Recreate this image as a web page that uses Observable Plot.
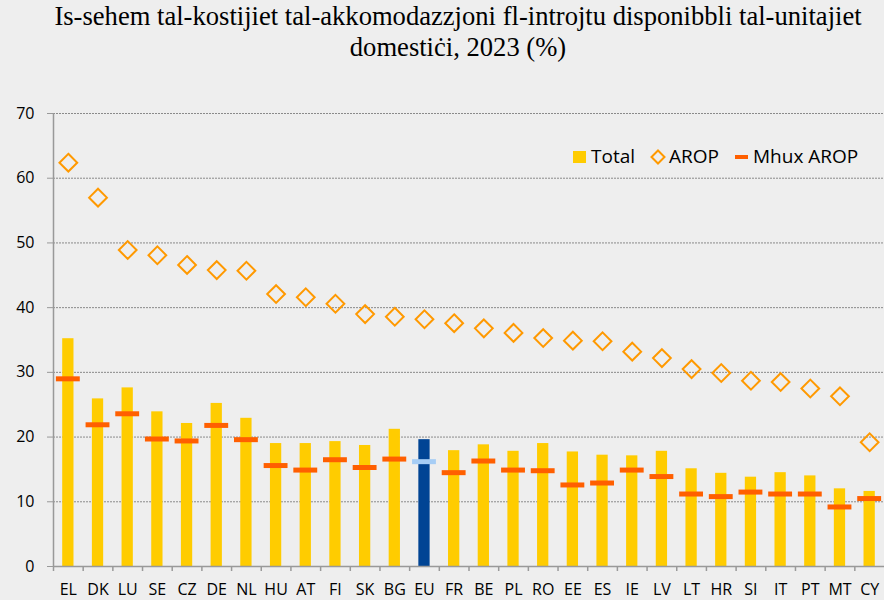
<!DOCTYPE html>
<html>
<head>
<meta charset="utf-8">
<script src="https://cdn.jsdelivr.net/npm/d3@7"></script>
<script src="https://cdn.jsdelivr.net/npm/@observablehq/plot@0.6"></script>
<style>
  html, body { margin: 0; padding: 0; background: #eeeeee; }
  #wrap { position: relative; width: 884px; height: 600px; background: #eeeeee; overflow: hidden; }
  #title { height: 95px; box-sizing: border-box; padding-top: 1px; padding-left: 32px; text-align: center; font-family: "Liberation Serif", "Times New Roman", serif; font-size: 26.6px; line-height: 31px; color: #000; white-space: nowrap; }
  .lg { position: absolute; font-family: "Open Sans", sans-serif; font-size: 19px; color: #000; line-height: 20px; white-space: nowrap; }
</style>
</head>
<body>
<div id="wrap">
  <div id="title">Is-sehem tal-kostijiet tal-akkomodazzjoni fl-introjtu disponibbli tal-unitajiet<br>domestiċi, 2023 (%)</div>
  <div id="chart"></div>
  <div class="lg" style="left:573px;top:151px;width:13px;height:12px;background:#ffcc00"></div>
  <div class="lg" style="left:591px;top:146px;">Total</div>
  <svg class="lg" style="left:650px;top:149px;" width="16" height="16" viewBox="0 0 16 16"><path d="M8 1.5 L14.5 8 L8 14.5 L1.5 8 Z" fill="none" stroke="#ff9900" stroke-width="2"/></svg>
  <div class="lg" style="left:669px;top:146px;">AROP</div>
  <div class="lg" style="left:735px;top:155px;width:13px;height:4px;background:#ff5f00"></div>
  <div class="lg" style="left:753px;top:146px;">Mhux AROP</div>
</div>
<script>
const categories = ["EL","DK","LU","SE","CZ","DE","NL","HU","AT","FI","SK","BG","EU","FR","BE","PL","RO","EE","ES","IE","LV","LT","HR","SI","IT","PT","MT","CY"];
const totalValues = [35.2,25.9,27.6,23.9,22.1,25.2,22.9,19.0,19.0,19.3,18.7,21.2,19.6,17.9,18.8,17.8,19.0,17.7,17.2,17.1,17.8,15.1,14.4,13.8,14.5,14.0,12.0,11.6];
const aropValues = [62.4,57.0,48.9,48.1,46.6,45.8,45.7,42.1,41.6,40.6,39.0,38.6,38.2,37.6,36.8,36.1,35.3,34.9,34.8,33.2,32.2,30.5,29.9,28.7,28.5,27.5,26.3,19.2];
const nonAropValues = [29.0,21.9,23.6,19.7,19.4,21.8,19.6,15.6,14.9,16.5,15.3,16.6,16.2,14.5,16.3,14.9,14.8,12.6,12.9,14.9,13.9,11.2,10.8,11.5,11.2,11.2,9.2,10.5];
const yTicks = [0,10,20,30,40,50,60,70];
const highlight = "EU";

const data = categories.map((c, i) => ({country: c, total: totalValues[i], arop: aropValues[i], non: nonAropValues[i], eu: c === highlight}));

const W = 884, ML = 53, MR = 0;
const bw = (W - ML - MR) / categories.length;

const chart = Plot.plot({
  width: W,
  height: 505,
  marginLeft: ML,
  marginRight: MR,
  marginTop: 18,
  marginBottom: 34,
  style: {background: "transparent", fontFamily: "Open Sans, sans-serif", fontSize: "16px", color: "#000", overflow: "visible"},
  x: {domain: categories, padding: 0, round: false, axis: null, label: null},
  y: {domain: [0, 70], axis: null, label: null},
  marks: [
    Plot.gridY(yTicks.slice(1), {stroke: "#8a8a8a", strokeOpacity: 1, strokeWidth: 1, strokeDasharray: "2,1"}),
    Plot.axisY({ticks: yTicks, tickSize: 6, tickPadding: 13, stroke: "#999", fontSize: 16, fill: "#000", label: null}),
    Plot.barY(data, {x: "country", y: "total", fill: d => d.eu ? "#004494" : "#ffcc00", insetLeft: 9.2, insetRight: 9.2}),
    Plot.tickY(data, {x: "country", y: "non", stroke: d => d.eu ? "#a6cdf5" : "#ff5f00", strokeWidth: 5, insetLeft: 2.9, insetRight: 2.9}),
    Plot.dot(data, {x: "country", y: "arop", symbol: "diamond2", r: 8, stroke: "#ff9900", strokeWidth: 2, fill: "none"}),
    Plot.ruleY([0], {stroke: "#999", strokeWidth: 1.5}),
    Plot.ruleX([categories[0]], {x: d => d, dx: -bw / 2, y1: 0, y2: 70, stroke: "#999", strokeWidth: 1.5}),
    Plot.ruleX(categories, {x: d => d, dx: -bw / 2, y1: 0, y2: 0, insetBottom: -5, stroke: "#999", strokeWidth: 1.5}),
    Plot.axisX({tickSize: 0, tickPadding: 17, fontSize: 16, fill: "#000", label: null})
  ]
});
document.getElementById("chart").appendChild(chart);
</script>
</body>
</html>
